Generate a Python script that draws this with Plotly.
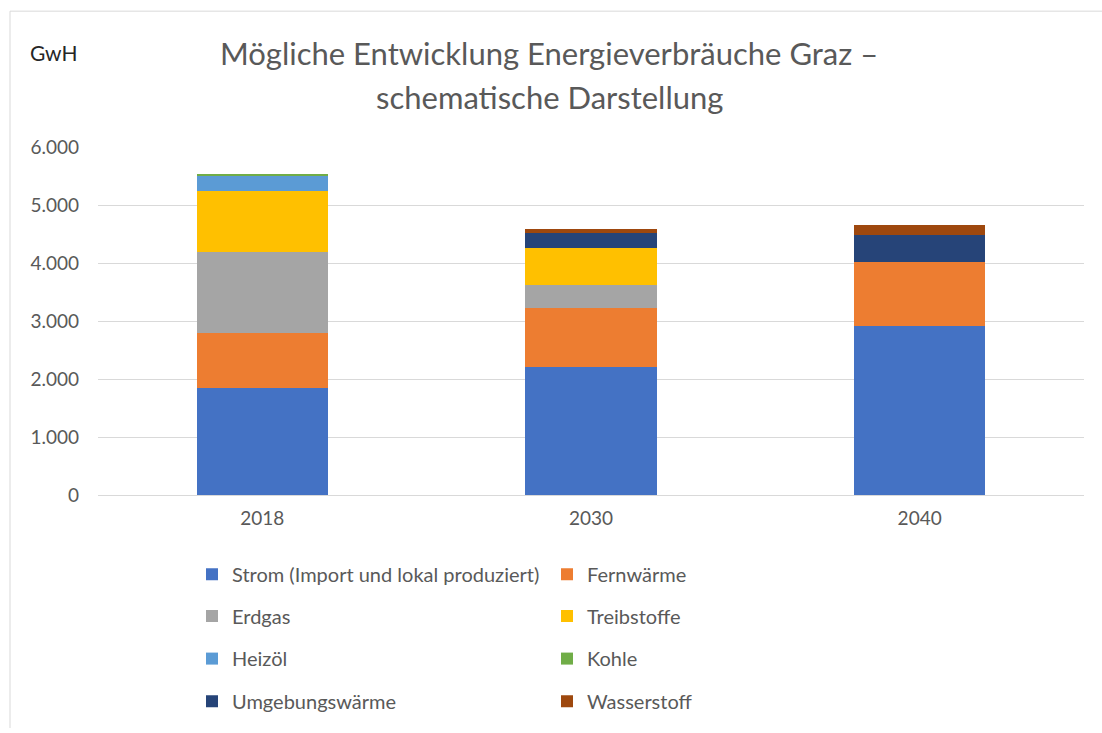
import plotly.graph_objects as go

# Jahre (Kategorien) und Energieverbräuche in GWh je Energieträger
jahre = ["2018", "2030", "2040"]

strom = [1840, 2200, 2920]
fernwaerme = [950, 1020, 1090]
erdgas = [1400, 400, 0]
treibstoffe = [1050, 640, 0]
heizoel = [275, 0, 0]
kohle = [20, 0, 0]
umgebungswaerme = [0, 250, 480]
wasserstoff = [0, 80, 170]

y_ticks = [0, 1000, 2000, 3000, 4000, 5000, 6000]

serien = [
    ("Strom (Import und lokal produziert)", strom, "#4472C4", "legend"),
    ("Fernwärme", fernwaerme, "#ED7D31", "legend"),
    ("Erdgas", erdgas, "#A5A5A5", "legend2"),
    ("Treibstoffe", treibstoffe, "#FFC000", "legend2"),
    ("Heizöl", heizoel, "#5B9BD5", "legend3"),
    ("Kohle", kohle, "#70AD47", "legend3"),
    ("Umgebungswärme", umgebungswaerme, "#264478", "legend4"),
    ("Wasserstoff", wasserstoff, "#9E480E", "legend4"),
]

FONT = "Lato"
GRAU = "#595959"

fig = go.Figure()
for name, werte, farbe, leg in serien:
    fig.add_trace(go.Bar(
        x=jahre, y=werte, name=name, legend=leg,
        marker=dict(color=farbe, line=dict(width=0)),
    ))

# Plotbereich in Pixeln
W, H = 1102, 733
L, R, T, B = 98, 18, 147, 235
pw, ph = W - L - R, H - T - B

def px_x(x):
    return (x - L) / pw

def px_y(y):
    return (H - B - y) / ph

legend_style = dict(
    orientation="h", xanchor="left", yanchor="middle",
    entrywidth=310, entrywidthmode="pixels",
    font=dict(family=FONT, size=20, color=GRAU),
    bgcolor="rgba(0,0,0,0)", borderwidth=0,
    traceorder="normal",
)
rows = [578, 620, 663, 706]
leg_x = px_x(192)

fig.update_layout(
    width=W, height=H,
    margin=dict(l=L, r=R, t=T, b=B),
    paper_bgcolor="white", plot_bgcolor="white",
    barmode="stack", bargap=0.6,
    separators=",.",
    font=dict(family=FONT, color=GRAU),
    legend=dict(legend_style, x=leg_x, y=px_y(rows[0])),
    legend2=dict(legend_style, x=leg_x, y=px_y(rows[1])),
    legend3=dict(legend_style, x=leg_x, y=px_y(rows[2])),
    legend4=dict(legend_style, x=leg_x, y=px_y(rows[3])),
    xaxis=dict(
        showgrid=False, zeroline=False, showline=False,
        tickfont=dict(family=FONT, size=19, color=GRAU),
        ticks="", ticklabelstandoff=10,
    ),
    yaxis=dict(
        range=[0, 6000], tickvals=y_ticks, tickformat=",d",
        showgrid=True, gridcolor="#D9D9D9", gridwidth=1,
        zeroline=True, zerolinecolor="#D9D9D9", zerolinewidth=1,
        showline=False, ticks="",
        tickfont=dict(family=FONT, size=19, color=GRAU),
        ticklabelstandoff=18,
    ),
    annotations=[
        dict(text="Mögliche Entwicklung Energieverbräuche Graz –",
             x=px_x(549), y=px_y(52), xref="paper", yref="paper",
             xanchor="center", yanchor="middle", showarrow=False,
             font=dict(family=FONT, size=31, color=GRAU)),
        dict(text="schematische Darstellung",
             x=px_x(549), y=px_y(97), xref="paper", yref="paper",
             xanchor="center", yanchor="middle", showarrow=False,
             font=dict(family=FONT, size=31, color=GRAU)),
        dict(text="GwH",
             x=px_x(28), y=px_y(52), xref="paper", yref="paper",
             xanchor="left", yanchor="middle", showarrow=False,
             font=dict(family=FONT, size=21, color="#262626")),
    ],
    shapes=[
        dict(type="line", xref="paper", yref="paper",
             x0=px_x(10), x1=px_x(W), y0=px_y(10), y1=px_y(10),
             line=dict(color="#D9D9D9", width=1)),
        dict(type="line", xref="paper", yref="paper",
             x0=px_x(10), x1=px_x(10), y0=px_y(10), y1=px_y(H),
             line=dict(color="#D9D9D9", width=1)),
    ],
)

fig.write_html("out.html")
